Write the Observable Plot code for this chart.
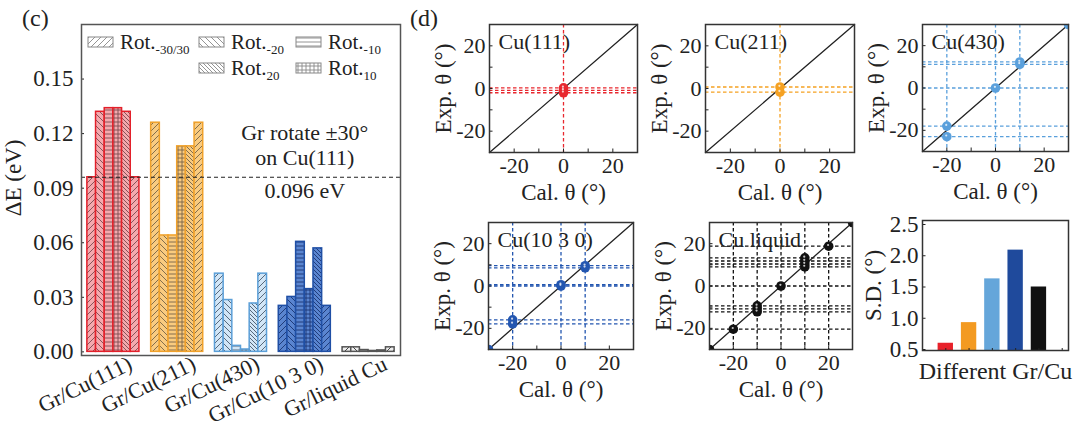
<!DOCTYPE html>
<html><head><meta charset="utf-8">
<script src="https://cdn.jsdelivr.net/npm/d3@7"></script>
<script src="https://cdn.jsdelivr.net/npm/@observablehq/plot@0.6"></script>
<style>
html,body{margin:0;padding:0;background:#fff;}
#fig{position:relative;width:1080px;height:432px;overflow:hidden;background:#fff;font-family:"Liberation Serif","Times New Roman",serif;color:#222;}
.plab{position:absolute;font-size:24px;line-height:1;}
</style></head><body>
<div id="fig"></div>
<script>
// ---------------- data ----------------
const groups = ["Gr/Cu(111)", "Gr/Cu(211)", "Gr/Cu(430)", "Gr/Cu(10 3 0)", "Gr/liquid Cu"];
const rotations = [-30, -20, -10, 10, 20, 30];
const dE_111 = [0.096, 0.132, 0.134, 0.134, 0.132, 0.096];
const dE_211 = [0.126, 0.064, 0.064, 0.113, 0.113, 0.126];
const dE_430 = [0.043, 0.0285, 0.0033, 0.0013, 0.0266, 0.043];
const dE_1030 = [0.0253, 0.0302, 0.0605, 0.0345, 0.0569, 0.0253];
const dE_liquid = [0.0025, 0.0025, 0.001, 0.0005, 0.0008, 0.0025];
const refValue = 0.096;
const refText = ["Gr rotate ±30°", "on Cu(111)"];
const refValueText = "0.096 eV";
const yTicksC = [0, 0.03, 0.06, 0.09, 0.12, 0.15];
const legendTypes = ["r30", "m20", "m10", "p20", "p10"];
const legendSubs = ["-30/30", "-20", "-10", "20", "10"];

const panelNames = ["Cu(111)", "Cu(211)", "Cu(430)", "Cu(10 3 0)", "Cu liquid"];
const cal_111 = [0, 0, 0];
const exp_111 = [0.3, -0.9, -2.0];
const cal_211 = [0, 0];
const exp_211 = [0.7, -1.7];
const cal_430 = [-20, -20, 0, 10, 10, 30];
const exp_430 = [-23, -18, 0, 11.2, 12.3, 30];
const cal_1030 = [-30, -20, -20, 0, 0, 10, 10];
const exp_1030 = [-30, -17.9, -16, 0, 0.6, 8.6, 9.6];
const cal_liq = [-30, -20, -10, -10, -10, 0, 10, 10, 10, 10, 20, 30];
const exp_liq = [-30, -20.4, -12.2, -10.8, -9.4, 0, 9, 10.4, 11.8, 13.3, 18.8, 30];
const thetaMajor = [-20, 0, 20];
const thetaAll = [-20, -10, 0, 10, 20];

const sdValues = [0.60, 0.93, 1.63, 2.09, 1.50];
const sdTicks = [0.5, 1.0, 1.5, 2.0, 2.5];

// ---------------- styles ----------------
const FONT = '"Liberation Serif","Times New Roman",serif';
const groupStroke = ["#e3202a", "#f0a12b", "#5b9fd8", "#1f4fa5", "#555555"];
const groupBg = ["#f4a9ae", "#f9cb80", "#d2e6f7", "#5a85d0", "#eeeeee"];
const groupHatch = ["#7a4a4e", "#756246", "#4a5a6c", "#1a3370", "#333333"];
const panelColor = ["#e8282f", "#f5a122", "#5aa0dc", "#2356b0", "#111111"];
const sdColors = ["#e8212a", "#f39a21", "#65a6da", "#1f4a9c", "#111111"];
const rotType = {"-30": "r30", "-20": "m20", "-10": "m10", "10": "p10", "20": "p20", "30": "r30"};

const fig = document.getElementById("fig");

// patterns
const defs = d3.select("body").append("svg").attr("width", 0).attr("height", 0)
  .style("position", "absolute").append("defs");
function addPattern(id, bg, line, type) {
  const s = (type === "r30" || type === "m20") ? 6 : 4;
  const p = defs.append("pattern").attr("id", id).attr("patternUnits", "userSpaceOnUse")
    .attr("width", s).attr("height", s);
  p.append("rect").attr("width", s).attr("height", s).attr("fill", bg);
  let d;
  if (type === "r30") d = `M0,${s}L${s},0M-1,1L1,-1M${s-1},${s+1}L${s+1},${s-1}`;
  else if (type === "m20" || type === "p20") d = `M0,0L${s},${s}M-1,${s-1}L1,${s+1}M${s-1},-1L${s+1},1`;
  else if (type === "m10") d = `M0,${s/2}L${s},${s/2}`;
  else d = `M0,${s/2}L${s},${s/2}M${s/2},0L${s/2},${s}`;
  p.append("path").attr("d", d).attr("stroke", line).attr("stroke-width", 0.9).attr("fill", "none");
}
groups.forEach((g, gi) => Object.values(rotType).forEach(t => addPattern(`pat-${gi}-${t}`, groupBg[gi], groupHatch[gi], t)));
legendTypes.forEach(t => addPattern(`pat-L-${t}`, "#ffffff", "#888888", t));

function place(svg, left, top) {
  svg.style.position = "absolute";
  svg.style.left = left + "px";
  svg.style.top = top + "px";
  svg.style.overflow = "visible";
  fig.appendChild(svg);
}

// ---------------- panel (c) ----------------
const dESeries = [dE_111, dE_211, dE_430, dE_1030, dE_liquid];
const barW = 0.136;
const barData = groups.flatMap((g, gi) => rotations.map((r, ri) => ({
  gi, t: rotType[r], v: dESeries[gi][ri],
  x1: gi - 3 * barW + ri * barW, x2: gi - 2 * barW + ri * barW
})));

const cW = 405, cH = 432;
const plotC = Plot.plot({
  width: cW, height: cH,
  marginLeft: 81, marginRight: 5, marginTop: 24, marginBottom: 77,
  x: {domain: [-0.5, groups.length - 0.5], axis: null},
  y: {domain: [-0.002, 0.18], axis: null},
  color: {type: "identity"},
  style: {fontFamily: FONT, fontSize: "22px", color: "#222", background: "transparent", overflow: "visible"},
  marks: [
    Plot.rectY(barData, {x1: "x1", x2: "x2", y: "v", fill: d => `url(#pat-${d.gi}-${d.t})`,
      stroke: d => groupStroke[d.gi], strokeWidth: 1.5}),
    Plot.ruleY([refValue], {stroke: "#222", strokeWidth: 1.2, strokeDasharray: "4,3"}),
    Plot.text([refText.join("\n")], {text: d => d, x: 3, y: refValue, dy: -33, lineHeight: 1.15, fontSize: 22, fill: "#222"}),
    Plot.text([refValueText], {text: d => d, x: 3, y: refValue, dy: 14, fontSize: 22, fill: "#222"}),
    Plot.axisY({ticks: yTicksC, tickFormat: ".2f", tickSize: 0, tickPadding: 8, label: null, fontSize: 23}),
    Plot.axisY({ticks: yTicksC, tickFormat: () => "", tickSize: 3, dx: 3, label: null}),
    Plot.axisX({ticks: d3.range(groups.length), tickFormat: i => groups[i], tickRotate: -26, tickSize: 0,
      tickPadding: 7, dx: 17, label: null, fontSize: 22}),
    Plot.text(["ΔE (eV)"], {text: d => d, frameAnchor: "left", textAnchor: "middle", lineAnchor: "middle",
      dx: -68, dy: -12, rotate: -90, fontSize: 23}),
    Plot.frame({stroke: "#555", strokeWidth: 1.5})
  ]
});
place(plotC, 0, 0);

// legend for (c)
const legSvg = d3.create("svg").attr("width", 400).attr("height", 90).style("font-family", FONT);
const legPos = [[88, 42], [199, 42], [296, 42], [199, 68], [296, 68]];
legendTypes.forEach((t, i) => {
  const [x, y] = legPos[i];
  legSvg.append("rect").attr("x", x).attr("y", y - 5).attr("width", 25).attr("height", 10)
    .attr("fill", `url(#pat-L-${t})`).attr("stroke", "#888").attr("stroke-width", 1);
  const tx = legSvg.append("text").attr("x", x + 32).attr("y", y + 7).attr("font-size", 21).attr("fill", "#222");
  tx.append("tspan").text("Rot.");
  tx.append("tspan").attr("font-size", 13).attr("dy", 5).text(legendSubs[i]);
});
place(legSvg.node(), 0, 0);

// ---------------- panels (d) ----------------
const panelCal = [cal_111, cal_211, cal_430, cal_1030, cal_liq];
const panelExp = [exp_111, exp_211, exp_430, exp_1030, exp_liq];
const panelFrames = [[489, 24, 637, 152], [705, 24, 854, 152], [922, 24, 1068, 151], [488, 222, 633, 349], [709, 222, 852, 349]];
const thetaDomain = [-30, 30];
const diag = thetaDomain;

function makePanel(k) {
  const [x0, y0, x1, y1] = panelFrames[k];
  const fw = x1 - x0, fh = y1 - y0;
  const mL = 72, mR = 12, mT = 8, mB = 62;
  const cal = panelCal[k], ex = panelExp[k];
  const inner = v => Math.abs(v) < 30;
  const vx = [...new Set(cal.filter(inner))];
  const hy = ex.filter(inner);
  const pts = cal.map((c, i) => ({c, e: ex[i]}));
  const col = panelColor[k];
  const svg = Plot.plot({
    width: fw + mL + mR, height: fh + mT + mB,
    marginLeft: mL, marginRight: mR, marginTop: mT, marginBottom: mB,
    x: {domain: thetaDomain, axis: null},
    y: {domain: thetaDomain, axis: null},
    style: {fontFamily: FONT, fontSize: "22px", color: "#222", background: "transparent", overflow: "visible"},
    marks: [
      Plot.ruleX(vx, {stroke: col, strokeWidth: 1.3, strokeDasharray: "3.5,2.5"}),
      Plot.ruleY(hy, {stroke: col, strokeWidth: 1.3, strokeDasharray: "3.5,2.5"}),
      Plot.line(diag, {x: d => d, y: d => d, stroke: "#222", strokeWidth: 1.3}),
      Plot.dot(pts, {x: "c", y: "e", r: 4.8, fill: col, stroke: "none", clip: true}),
      Plot.dot(pts, {x: "c", y: "e", r: 1.1, fill: "white", fillOpacity: 0.75, dx: -0.6, dy: -1.2, clip: true}),
      Plot.axisX({ticks: thetaMajor, tickFormat: d => String(d), tickSize: 0, tickPadding: 5, label: null, fontSize: 22}),
      Plot.axisX({ticks: thetaAll, tickFormat: () => "", tickSize: 3.5, dy: -3.5, label: null}),
      Plot.axisY({ticks: thetaMajor, tickFormat: d => String(d), tickSize: 0, tickPadding: 4, label: null, fontSize: 22}),
      Plot.axisY({ticks: thetaAll, tickFormat: () => "", tickSize: 3.5, dx: 3.5, label: null}),
      Plot.text([panelNames[k]], {text: d => d, frameAnchor: "top-left", dx: 9, dy: 17, textAnchor: "start", lineAnchor: "middle", fontSize: 22}),
      Plot.text(["Cal. θ (°)"], {text: d => d, frameAnchor: "bottom", textAnchor: "middle", lineAnchor: "middle", dy: 40, fontSize: 23}),
      Plot.text(["Exp. θ (°)"], {text: d => d, frameAnchor: "left", textAnchor: "middle", lineAnchor: "middle", dx: -46, rotate: -90, fontSize: 23}),
      Plot.frame({stroke: "#333", strokeWidth: 1.5})
    ]
  });
  place(svg, x0 - mL, y0 - mT);
}
panelNames.forEach((n, k) => makePanel(k));

// S.D. bar chart
(function () {
  const [x0, y0, x1, y1] = [922, 220, 1068, 350];
  const fw = x1 - x0, fh = y1 - y0;
  const mL = 72, mR = 12, mT = 8, mB = 62;
  const sdData = sdValues.map((v, i) => ({i: i + 1, v, c: sdColors[i]}));
  const svg = Plot.plot({
    width: fw + mL + mR, height: fh + mT + mB,
    marginLeft: mL, marginRight: mR, marginTop: mT, marginBottom: mB,
    x: {domain: [0, sdValues.length + 1.27], axis: null},
    y: {domain: [0.484, 2.564], axis: null},
    color: {type: "identity"},
    style: {fontFamily: FONT, fontSize: "22px", color: "#222", background: "transparent", overflow: "visible"},
    marks: [
      Plot.rectY(sdData, {x1: d => d.i - 0.33, x2: d => d.i + 0.33, y: "v", fill: "c", clip: true}),
      Plot.axisY({ticks: sdTicks, tickFormat: ".1f", tickSize: 0, tickPadding: 4, label: null, fontSize: 23}),
      Plot.axisY({ticks: sdTicks, tickFormat: () => "", tickSize: 3.5, dx: 3.5, label: null}),
      Plot.axisX({ticks: d3.range(1, sdValues.length + 2), tickFormat: () => "", tickSize: 2, dy: -2, label: null}),
      Plot.text(["Different Gr/Cu"], {text: d => d, frameAnchor: "bottom", textAnchor: "middle", lineAnchor: "middle", dy: 21, fontSize: 24}),
      Plot.text(["S.D. (°)"], {text: d => d, frameAnchor: "left", textAnchor: "middle", lineAnchor: "middle", dx: -49, rotate: -90, fontSize: 23}),
      Plot.frame({stroke: "#333", strokeWidth: 1.5})
    ]
  });
  place(svg, x0 - mL, y0 - mT);
})();

// panel letters
[["(c)", 22, 6], ["(d)", 410, 6]].forEach(([t, l, tp]) => {
  const d = document.createElement("div");
  d.className = "plab"; d.textContent = t; d.style.left = l + "px"; d.style.top = tp + "px";
  fig.appendChild(d);
});
</script>
</body></html>
